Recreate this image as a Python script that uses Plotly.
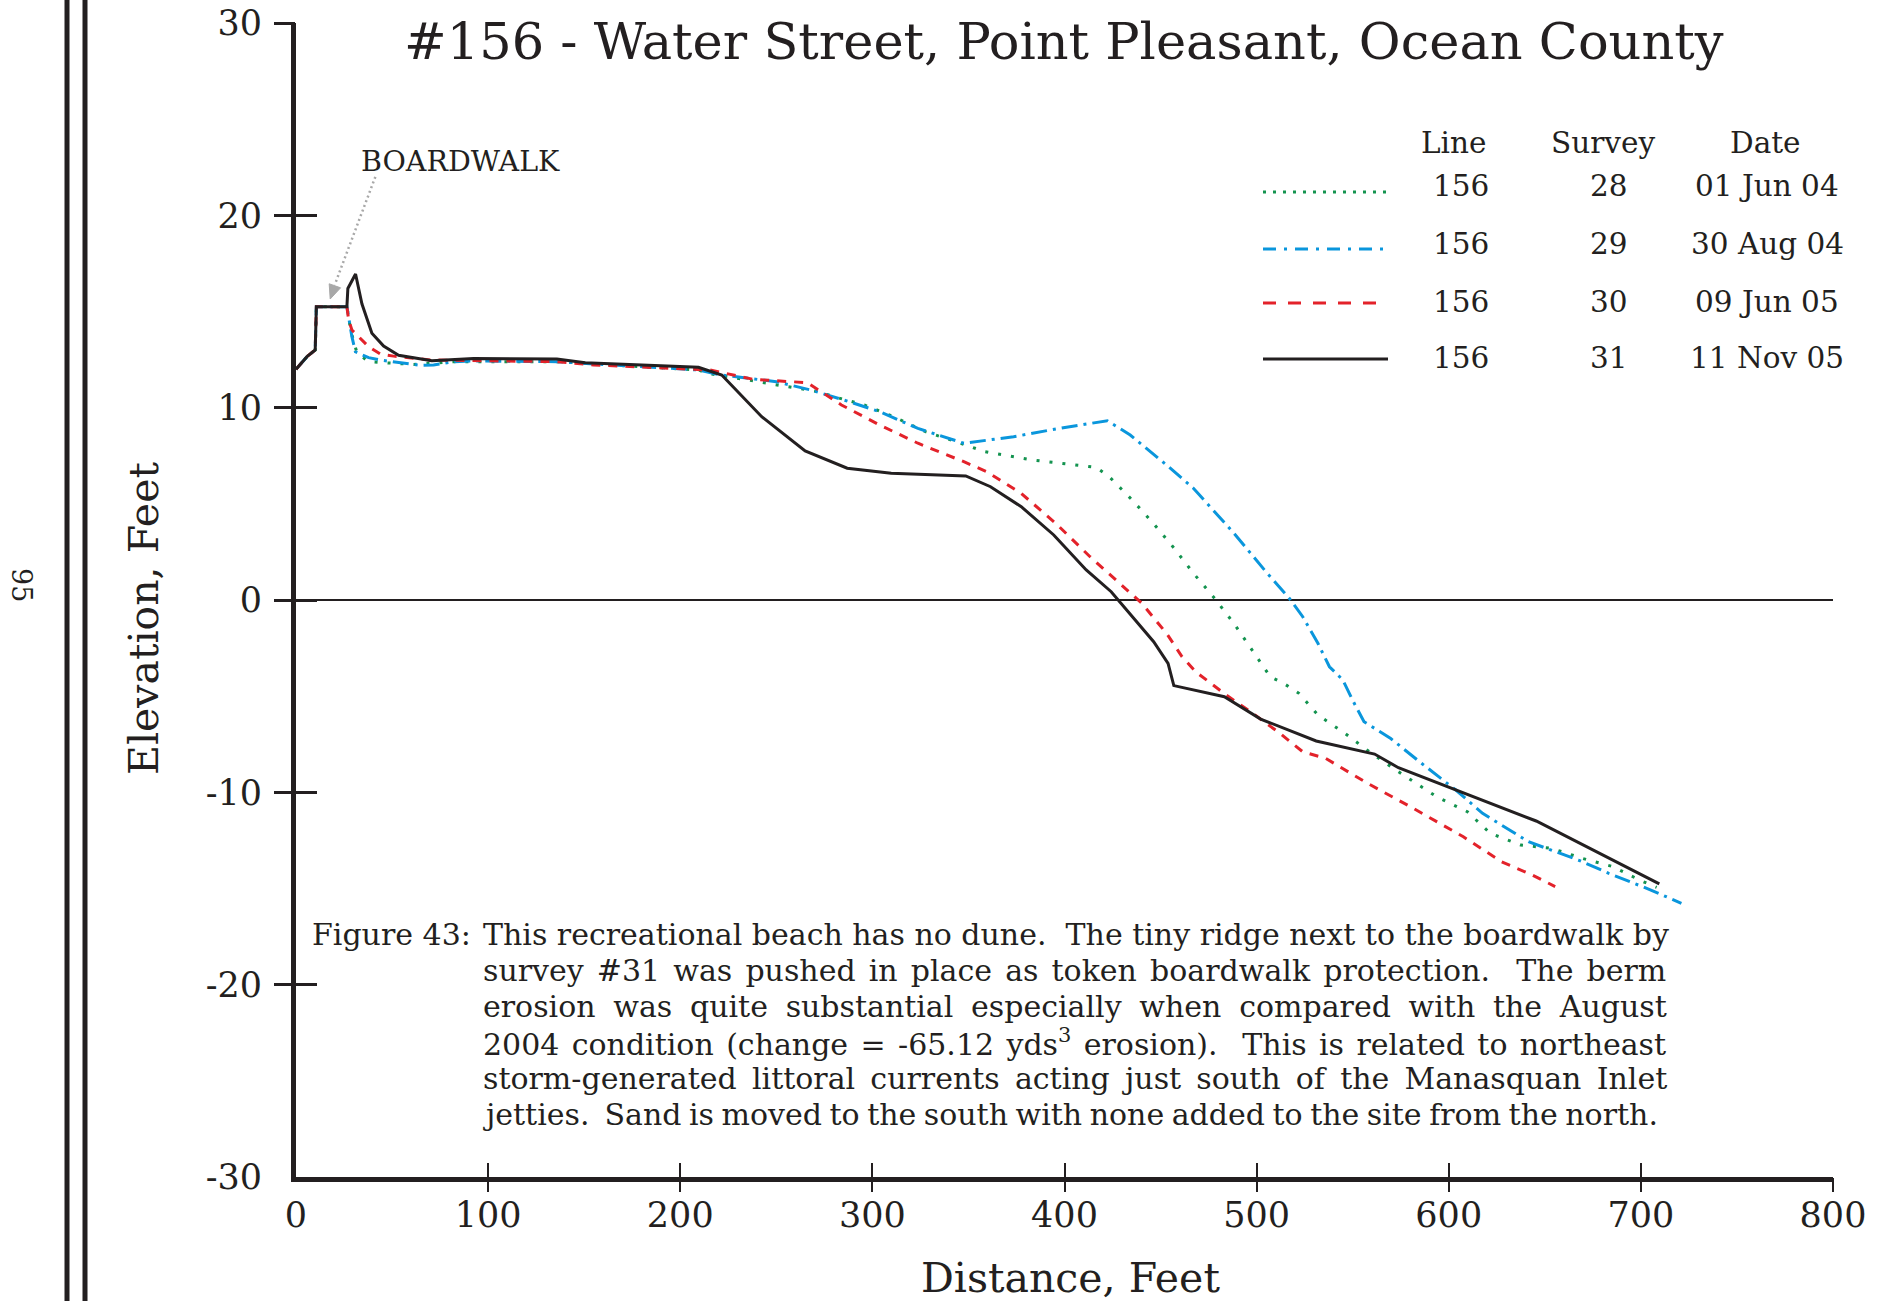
import plotly.graph_objects as go

# ---------------- data ----------------
x28 = [0, 5.7, 10, 10.6, 26.5, 28.5, 31.7, 37.8, 45.6, 61.2, 82.0, 135.8, 209.5, 214.2, 256.0, 264.0,
       272.0, 279.9, 295.8, 311.8, 327.7, 343.6, 350.6, 358.6, 383.5, 408.3, 416.3, 423.3, 435.2, 446.2,
       457.1, 467.1, 478.1, 488.1, 498.1, 507.1, 514.0, 522.0, 531.9, 545.9, 559.8, 573.8, 593.7, 609.7,
       621.6, 637.5, 653.5, 669.4, 685.3, 699.3, 708.2]
y28 = [12.0, 12.65, 13.0, 15.25, 15.25, 14.0, 12.86, 12.39, 12.34, 12.25, 12.39, 12.39, 11.96, 11.79, 11.09,
       10.95, 10.83, 10.57, 10.14, 9.50, 8.75, 8.23, 7.97, 7.71, 7.28, 7.02, 6.90, 6.41, 5.2, 3.99, 2.69,
       1.39, 0.09, -1.21, -2.69, -3.99, -4.33, -4.85, -5.98, -6.93, -7.97, -8.93, -10.23, -11.01, -12.13,
       -12.74, -12.91, -13.43, -13.86, -14.56, -14.94]

x29 = [0, 5.7, 10, 10.6, 26.5, 29.1, 30.9, 37.8, 45.6, 64.7, 71.6, 82.0, 92.4, 135.8, 209.5, 221.2, 250.0,
       267.9, 287.9, 303.8, 323.7, 347.6, 373.5, 399.4, 422.3, 434.2, 453.1, 467.1, 478.1, 488.2, 504.1,
       517.0, 524.0, 531.9, 537.9, 544.9, 549.9, 555.9, 569.8, 585.8, 603.7, 617.6, 641.5, 667.4, 683.3,
       705.2, 721.1]
y29 = [12.0, 12.65, 13.0, 15.25, 15.25, 13.69, 12.91, 12.6, 12.45, 12.2, 12.22, 12.39, 12.43, 12.39, 11.96,
       11.7, 11.35, 10.92, 10.31, 9.79, 8.92, 8.15, 8.49, 8.96, 9.32, 8.58, 7.02, 5.81, 4.59, 3.47, 1.56,
       0.09, -0.87, -2.25, -3.47, -4.16, -5.2, -6.33, -7.2, -8.49, -9.88, -11.09, -12.57, -13.52, -14.21,
       -15.08, -15.77]

x30 = [0, 5.7, 10, 10.6, 26.5, 27.4, 29.1, 33.5, 37.8, 43.9, 50.8, 69.9, 135.8, 154.9, 215.6, 238.1, 266.0,
       272.0, 283.9, 303.8, 323.7, 347.6, 359.6, 377.5, 395.4, 413.3, 431.2, 440.2, 453.2, 461.2, 468.5,
       484.2, 498.1, 512.1, 524.0, 536.0, 557.9, 581.7, 607.6, 627.5, 643.5, 655.4]
y30 = [12.0, 12.65, 13.0, 15.25, 15.25, 14.56, 14.04, 13.6, 13.17, 12.79, 12.68, 12.48, 12.39, 12.22, 11.96,
       11.47, 11.3, 10.92, 10.14, 9.10, 8.15, 7.19, 6.67, 5.54, 3.99, 2.25, 0.61, -0.17, -1.75, -2.95,
       -3.75, -4.94, -5.90, -6.93, -7.89, -8.24, -9.54, -10.84, -12.31, -13.61, -14.30, -14.90]

x31 = [0, 5.7, 10, 10.6, 26.5, 27.0, 31.0, 34.3, 39.5, 45.6, 53.4, 70.7, 92.4, 135.8, 150.5, 209.5, 221.6,
       242.4, 265.0, 286.9, 309.8, 348.6, 361.5, 377.5, 394.4, 411.3, 424.3, 438.4, 446.4, 453.9, 456.9,
       483.2, 502.1, 531.0, 561.4, 573.8, 645.5, 709.6]
y31 = [12.0, 12.65, 13.0, 15.25, 15.25, 16.2, 16.95, 15.4, 13.87, 13.2, 12.72, 12.44, 12.56, 12.53, 12.34,
       12.1, 11.7, 9.53, 7.75, 6.85, 6.59, 6.45, 5.89, 4.85, 3.38, 1.56, 0.43, -1.21, -2.17, -3.30, -4.45,
       -5.03, -6.19, -7.33, -8.01, -8.72, -11.49, -14.76]

surveys = ["28", "29", "30", "31"]
lines_no = ["156", "156", "156", "156"]
dates = ["01 Jun 04", "30 Aug 04", "09 Jun 05", "11 Nov 05"]

x_ticks = [0, 100, 200, 300, 400, 500, 600, 700, 800]
y_ticks = [-30, -20, -10, 0, 10, 20, 30]
y_ticktext = ["-30", "-20", "-10", "0", "10", "20", "30"]

title_text = "#156 - Water Street, Point Pleasant, Ocean County"
caption_first = "Figure 43:"
caption_lines = [
    "This recreational beach has no dune.  The tiny ridge next to the boardwalk by",
    "survey #31 was pushed in place as token boardwalk protection.  The berm",
    "erosion was quite substantial especially when compared with the August",
    "2004 condition (change = -65.12 yds<sup>3</sup> erosion).  This is related to northeast",
    "storm-generated littoral currents acting just south of the Manasquan Inlet",
    "jetties.  Sand is moved to the south with none added to the site from the north.",
]

# ---------------- styles ----------------
INK = "#231f20"
GREEN = "#13934f"
BLUE = "#0a96dc"
RED = "#e3222a"
GRAY = "#a8a8a8"
FONT = "DejaVu Serif"

W, H = 1885, 1301
ML, MR, MT, MB = 296, 52, 23, 124
PW, PH = W - ML - MR, H - MT - MB


def pxx(p):
    return (p - ML) / PW


def pxy(p):
    return (H - MB - p) / PH


styles = [
    dict(color=GREEN, width=3, dash="3px,10px"),
    dict(color=BLUE, width=3, dash="16px,6px,3px,6px"),
    dict(color=RED, width=3, dash="9px,8px"),
    dict(color=INK, width=3),
]
legend_styles = [
    dict(color=GREEN, width=3, dash="3px,7px"),
    dict(color=BLUE, width=3, dash="13px,8px,3px,8px"),
    dict(color=RED, width=3, dash="13px,12px"),
    dict(color=INK, width=3),
]

fig = go.Figure()
for xs, ys, st, sv in zip([x28, x29, x30, x31], [y28, y29, y30, y31], styles, surveys):
    fig.add_trace(go.Scatter(x=xs, y=ys, mode="lines", line=st, name="Survey " + sv,
                             showlegend=False, hoverinfo="x+y"))

# dummy traces for tick-only overlay axes
fig.add_trace(go.Scatter(x=[None], y=[None], xaxis="x2", yaxis="y2", showlegend=False, hoverinfo="skip"))
fig.add_trace(go.Scatter(x=[None], y=[None], xaxis="x3", yaxis="y3", showlegend=False, hoverinfo="skip"))

tickfont = dict(family=FONT, size=35, color=INK)
fig.update_layout(
    width=W, height=H,
    margin=dict(l=ML, r=MR, t=MT, b=MB, autoexpand=False),
    paper_bgcolor="white", plot_bgcolor="white",
    showlegend=False,
    xaxis=dict(range=[0, 800], tickvals=x_ticks, ticks="", showgrid=False, zeroline=False,
               showline=True, linewidth=5, linecolor=INK, tickfont=tickfont, ticklabelstandoff=3,
               fixedrange=True),
    yaxis=dict(range=[-30, 30], tickvals=y_ticks, ticktext=y_ticktext, ticks="", showgrid=False,
               zeroline=True, zerolinecolor=INK, zerolinewidth=2,
               showline=True, linewidth=5, linecolor=INK, tickfont=tickfont, ticklabelstandoff=22,
               fixedrange=True),
    xaxis2=dict(overlaying="x", anchor="y2", range=[0, 800], tickvals=x_ticks[1:], ticks="outside",
                ticklen=14, tickwidth=2, tickcolor=INK, showticklabels=False, showgrid=False,
                zeroline=False, showline=False),
    yaxis2=dict(overlaying="y", anchor="x2", range=[-30, 30], tickvals=y_ticks[1:], ticks="outside",
                ticklen=21, tickwidth=3, tickcolor=INK, showticklabels=False, showgrid=False,
                zeroline=False, showline=False),
    xaxis3=dict(overlaying="x", anchor="y3", range=[0, 800], tickvals=x_ticks[1:], ticks="inside",
                ticklen=14, tickwidth=2, tickcolor=INK, showticklabels=False, showgrid=False,
                zeroline=False, showline=False),
    yaxis3=dict(overlaying="y", anchor="x3", range=[-30, 30], tickvals=y_ticks[1:], ticks="inside",
                ticklen=21, tickwidth=3, tickcolor=INK, showticklabels=False, showgrid=False,
                zeroline=False, showline=False),
)

ann = []
# title
ann.append(dict(text=title_text, x=pxx(1064), y=pxy(42), xref="paper", yref="paper",
                xanchor="center", yanchor="middle", showarrow=False,
                font=dict(family=FONT, size=51, color=INK)))
# axis titles
ann.append(dict(text="Elevation, Feet", x=pxx(144), y=pxy(619), xref="paper", yref="paper",
                xanchor="center", yanchor="middle", textangle=-90, showarrow=False,
                font=dict(family=FONT, size=41, color=INK)))
ann.append(dict(text="Distance, Feet", x=pxx(1070), y=pxy(1278), xref="paper", yref="paper",
                xanchor="center", yanchor="middle", showarrow=False,
                font=dict(family=FONT, size=41, color=INK)))
# page number
ann.append(dict(text="95", x=pxx(22), y=pxy(585), xref="paper", yref="paper",
                xanchor="center", yanchor="middle", textangle=90, showarrow=False,
                font=dict(family=FONT, size=27, color=INK)))
# legend table
lf = dict(family=FONT, size=29.5, color=INK)
for txt, cx in zip(["Line", "Survey", "Date"], [1453, 1603, 1765]):
    ann.append(dict(text=txt, x=pxx(cx), y=pxy(143), xref="paper", yref="paper",
                    xanchor="center", yanchor="middle", showarrow=False, font=lf))
row_y = [186, 244, 302, 358]
samp_y = [192, 249, 303, 359]
shapes = []
for i in range(4):
    ann.append(dict(text=lines_no[i], x=pxx(1461), y=pxy(row_y[i]), xref="paper", yref="paper",
                    xanchor="center", yanchor="middle", showarrow=False, font=lf))
    ann.append(dict(text=surveys[i], x=pxx(1609), y=pxy(row_y[i]), xref="paper", yref="paper",
                    xanchor="center", yanchor="middle", showarrow=False, font=lf))
    ann.append(dict(text=dates[i], x=pxx(1767), y=pxy(row_y[i]), xref="paper", yref="paper",
                    xanchor="center", yanchor="middle", showarrow=False, font=lf))
    shapes.append(dict(type="line", xref="paper", yref="paper", x0=pxx(1263), x1=pxx(1388),
                       y0=pxy(samp_y[i]), y1=pxy(samp_y[i]), line=legend_styles[i]))

# boardwalk label, dotted leader and arrowhead
ann.append(dict(text="BOARDWALK", x=pxx(460), y=pxy(162), xref="paper", yref="paper",
                xanchor="center", yanchor="middle", showarrow=False,
                font=dict(family=FONT, size=28.5, color=INK)))
shapes.append(dict(type="line", xref="x", yref="y", x0=41.3, y0=22.0, x1=20.2, y1=16.4,
                   line=dict(color=GRAY, width=2.5, dash="2px,3px")))
shapes.append(dict(type="path", xref="x", yref="y", xsizemode="pixel", ysizemode="pixel",
                   xanchor=17.8, yanchor=15.65,
                   path="M 0 0 L 10.4 11.2 L -1.0 15.2 Z",
                   fillcolor=GRAY, line=dict(color=GRAY, width=1)))

# caption
cf = dict(family=FONT, size=30, color=INK)
cap_y = [934, 970, 1006, 1042, 1078, 1114]
word_sp = [0, 3.6, 8.2, 2.85, 5.7, -2]
ann.append(dict(text=caption_first, x=pxx(310), y=pxy(cap_y[0]), xref="paper", yref="paper",
                xanchor="left", yanchor="middle", showarrow=False, font=cf))
for t, yy, ws in zip(caption_lines, cap_y, word_sp):
    ann.append(dict(text='<span style="word-spacing:%.2fpx">%s</span>' % (ws, t),
                    x=pxx(481), y=pxy(yy), xref="paper", yref="paper",
                    xanchor="left", yanchor="middle", showarrow=False, font=cf))

# left page border double line
for xx in [67, 85]:
    shapes.append(dict(type="line", xref="paper", yref="paper", x0=pxx(xx), x1=pxx(xx),
                       y0=pxy(0), y1=pxy(H), line=dict(color=INK, width=5)))

fig.update_layout(annotations=ann, shapes=shapes)

fig.write_html("out.html", config={"displayModeBar": False},
               post_script="document.body.style.margin='0';document.body.style.overflow='hidden';")
